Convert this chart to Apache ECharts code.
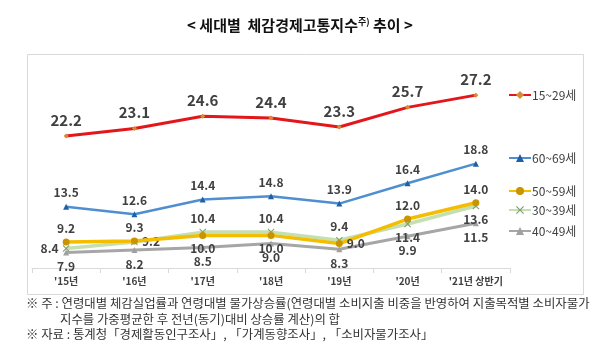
<!DOCTYPE html>
<html><head><meta charset="utf-8">
<script src="https://cdn.jsdelivr.net/npm/echarts@6/dist/echarts.min.js"></script>
<style>html,body{margin:0;padding:0;background:#fff}#c{width:600px;height:362px}</style>
</head><body><div id="c"></div>
<script>
var categories = ["'15년", "'16년", "'17년", "'18년", "'19년", "'20년", "'21년 상반기"];
var s15_29 = [22.2, 23.1, 24.6, 24.4, 23.3, 25.7, 27.2];
var s60_69 = [13.5, 12.6, 14.4, 14.8, 13.9, 16.4, 18.8];
var s50_59 = [9.2, 9.3, 10.0, 10.0, 9.0, 12.0, 14.0];
var s30_39 = [8.4, 9.2, 10.4, 10.4, 9.4, 11.4, 13.6];
var s40_49 = [7.9, 8.2, 8.5, 9.0, 8.3, 9.9, 11.5];
var seriesNames = ['15~29세', '60~69세', '50~59세', '30~39세', '40~49세'];

var pos50 = ['top', 'top', 'bottom', 'bottom', 'right', 'top', 'top'];
var pos30 = ['left', 'right', 'top', 'top', 'top', 'bottom', 'bottom'];

var chart = echarts.init(document.getElementById('c'), null, {renderer: 'canvas'});
var labTxt = '#404040';
var font = 'Noto Sans CJK KR';
var xPath = 'path://M0,1L1,0L5,4L9,0L10,1L6,5L10,9L9,10L5,6L1,10L0,9L4,5Z';

function withPos(arr, posArr) {
  return arr.map(function (v, i) { return {value: v, label: {position: posArr[i]}}; });
}

var legendTops = [89, 152, 185, 204, 225];
var legends = seriesNames.map(function (n, i) {
  return {
    data: [n], left: 508, top: legendTops[i], orient: 'vertical',
    itemWidth: 22, itemHeight: 10, itemGap: 0, padding: 0,
    textStyle: {fontSize: 12, color: labTxt, fontFamily: font, padding: [0, 0, 0, -4]}
  };
});

function fmt(p) { return (typeof p.value === 'number' ? p.value : p.data.value).toFixed(1); }

chart.setOption({
  animation: false,
  textStyle: {fontFamily: font},
  title: {
    text: '{m|< 세대별  체감경제고통지수}{s|주)}{m| 추이 >}',
    left: 'center', top: 12,
    textStyle: {rich: {
      m: {fontSize: 15, fontWeight: 'bold', color: '#111', fontFamily: font},
      s: {fontSize: 9, fontWeight: 'bold', color: '#111', verticalAlign: 'top', fontFamily: font, padding: [0, 0, 8, 0]}
    }}
  },
  legend: legends,
  grid: {left: 32, right: 90, top: 56, bottom: 94},
  xAxis: {
    type: 'category', data: categories, boundaryGap: true,
    axisLine: {lineStyle: {color: '#d9d9d9'}},
    axisTick: {show: true, length: 5, lineStyle: {color: '#d9d9d9'}},
    axisLabel: {interval: 0, color: labTxt, fontSize: 10, fontWeight: 'bold', margin: 8, fontFamily: font}
  },
  yAxis: {type: 'value', min: 6, max: 32, show: false, splitLine: {show: false}},
  graphic: [
    {type: 'rect', shape: {x: 27.5, y: 54.5, width: 556, height: 240}, style: {fill: 'none', stroke: '#d9d9d9', lineWidth: 1}, z: -1},
    {type: 'text', left: 26, top: 297, style: {text: '※ 주 : 연령대별 체감실업률과 연령대별 물가상승률(연령대별 소비지출 비중을 반영하여 지출목적별 소비자물가', fontSize: 12.4, fill: '#333', fontFamily: font}},
    {type: 'text', left: 60, top: 313, style: {text: '지수를 가중평균한 후 전년(동기)대비 상승률 계산)의 합', fontSize: 12.4, fill: '#333', fontFamily: font}},
    {type: 'text', left: 26, top: 328, style: {text: '※ 자료 : 통계청「경제활동인구조사」, 「가계동향조사」, 「소비자물가조사」', fontSize: 12.4, fill: '#333', fontFamily: font}}
  ],
  series: [
    {
      name: seriesNames[0], type: 'line', data: s15_29, z: 5,
      lineStyle: {color: '#e3171b', width: 3}, itemStyle: {color: '#d98a35'},
      symbol: 'diamond', symbolSize: 5,
      label: {show: true, position: 'top', distance: 6, fontSize: 15, fontWeight: 'bold', color: labTxt, formatter: fmt}
    },
    {
      name: seriesNames[1], type: 'line', data: s60_69, z: 4,
      lineStyle: {color: '#4f8fd0', width: 2.5}, itemStyle: {color: '#1f5fa6'},
      symbol: 'triangle', symbolSize: 6,
      label: {show: true, position: 'top', distance: 5, fontSize: 12, fontWeight: 'bold', color: labTxt, formatter: fmt}
    },
    {
      name: seriesNames[2], type: 'line', data: withPos(s50_59, pos50), z: 4,
      lineStyle: {color: '#f5bd00', width: 3.5}, itemStyle: {color: '#c99400'},
      symbol: 'circle', symbolSize: 7,
      label: {show: true, distance: 4, fontSize: 12, fontWeight: 'bold', color: labTxt, formatter: fmt}
    },
    {
      name: seriesNames[3], type: 'line', data: withPos(s30_39, pos30), z: 3,
      lineStyle: {color: '#c4e0b0', width: 3.5}, itemStyle: {color: '#7f9a70'},
      symbol: xPath, symbolSize: 7,
      label: {show: true, distance: 4, fontSize: 12, fontWeight: 'bold', color: labTxt, formatter: fmt}
    },
    {
      name: seriesNames[4], type: 'line', data: s40_49, z: 2,
      lineStyle: {color: '#a6a6a6', width: 3}, itemStyle: {color: '#a0a0a0'},
      symbol: 'triangle', symbolSize: 6,
      label: {show: true, position: 'bottom', distance: 5, fontSize: 12, fontWeight: 'bold', color: labTxt, formatter: fmt}
    }
  ]
});
</script>
</body></html>
